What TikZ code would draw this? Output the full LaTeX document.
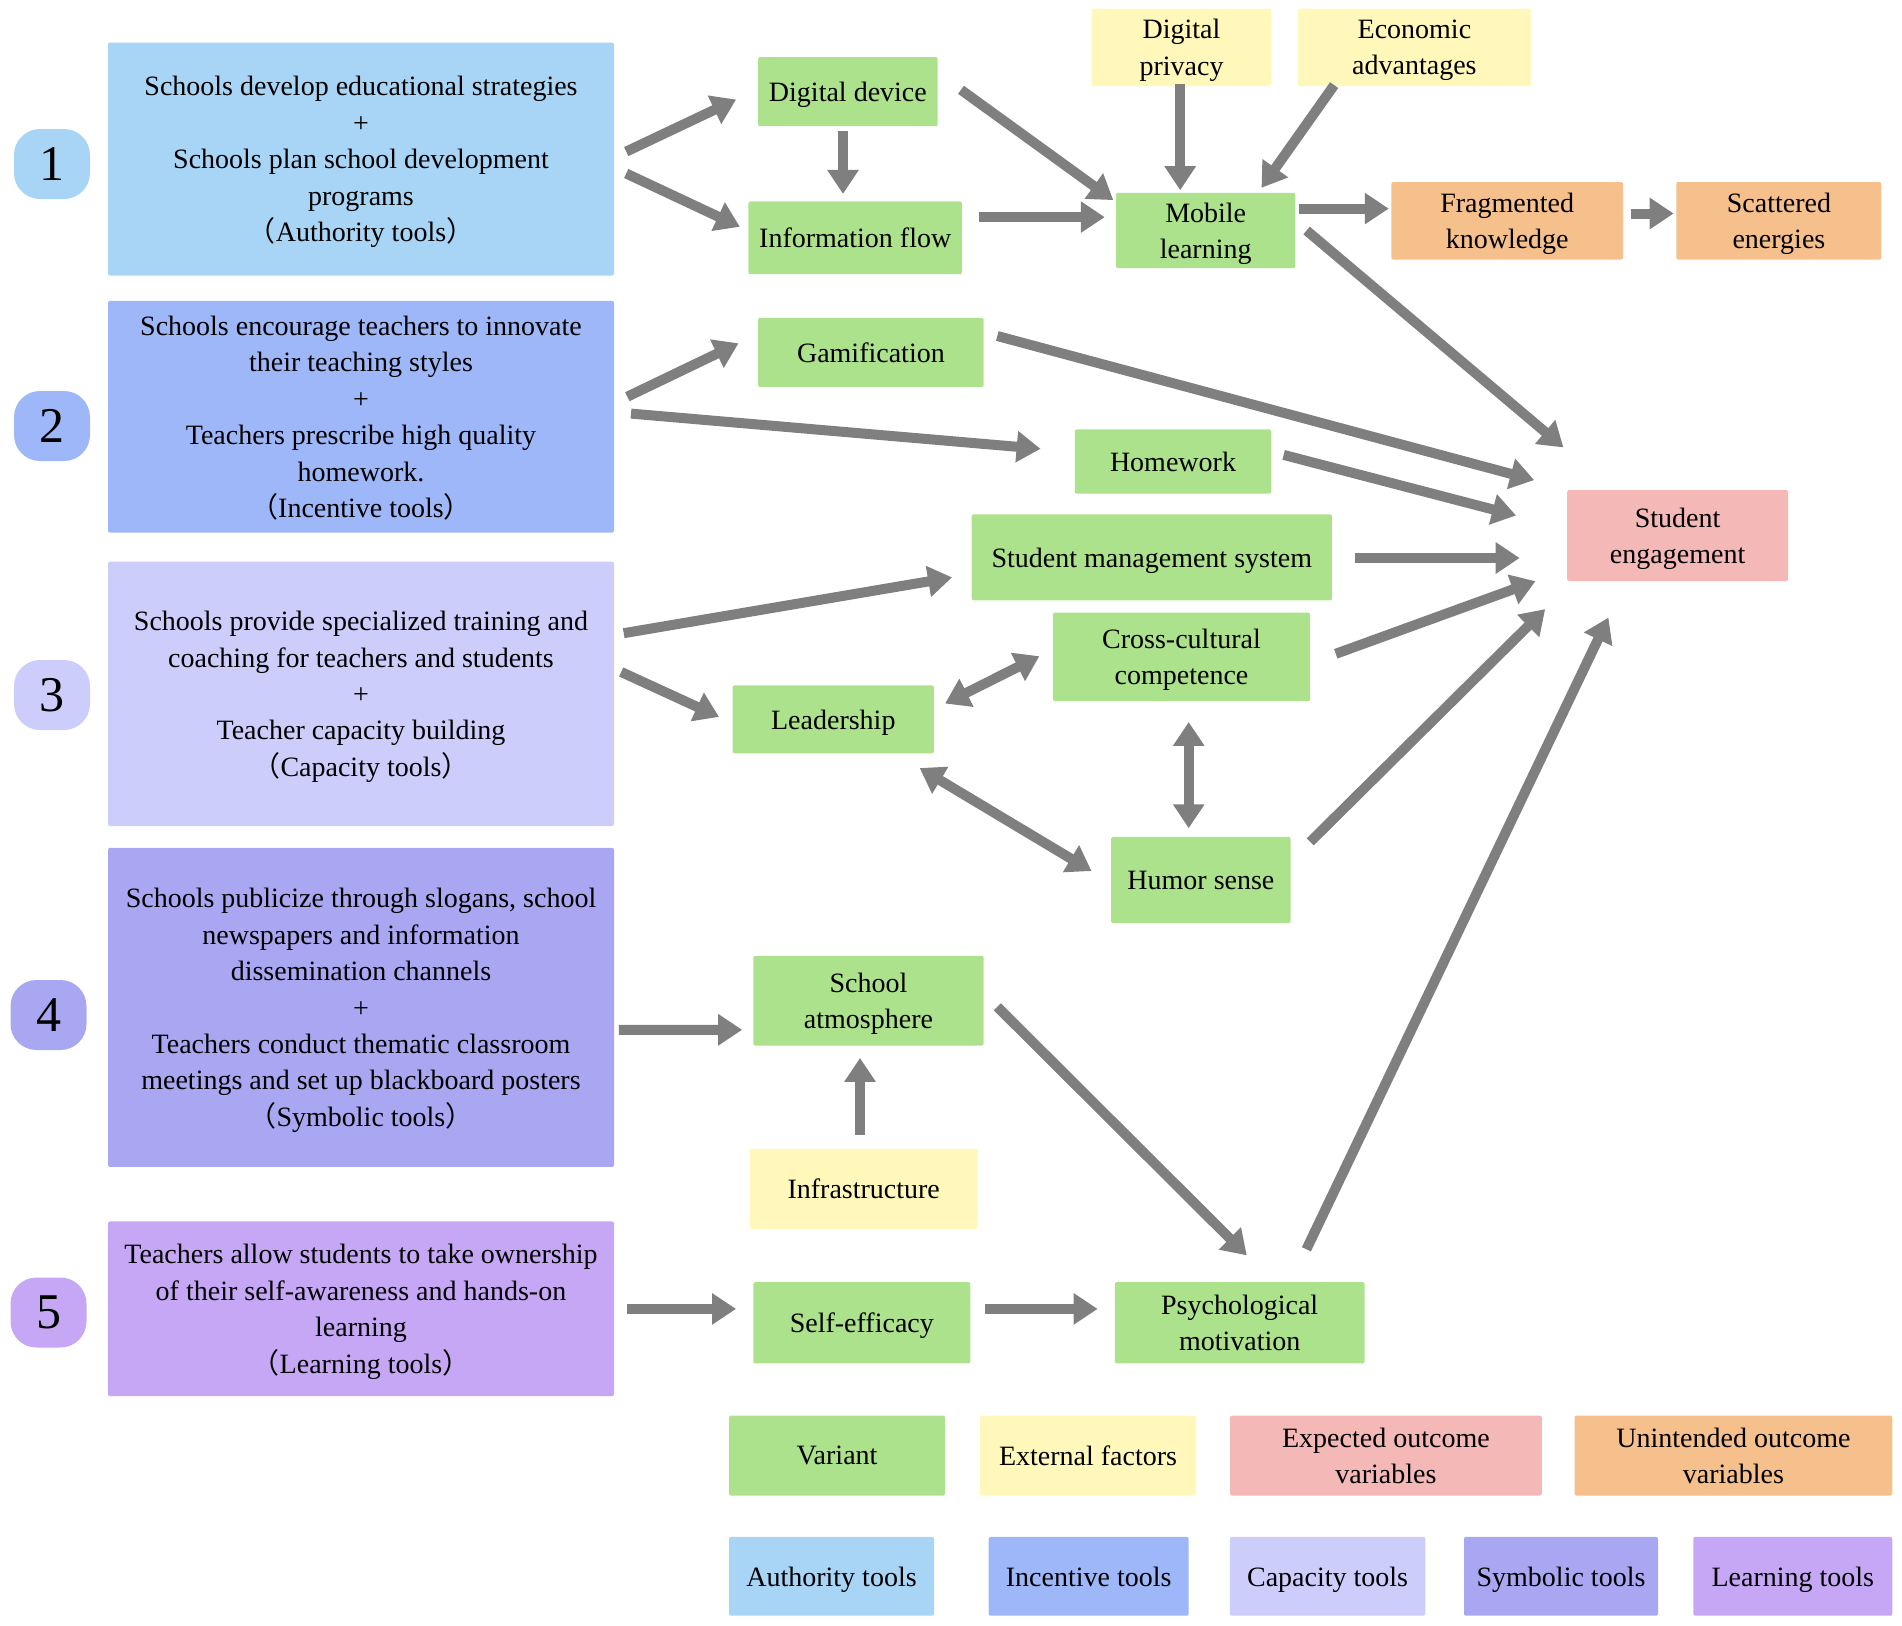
\documentclass[tikz,border=0pt]{standalone}
\usepackage{fontspec}
\setmainfont{Liberation Serif}
\newfontfamily\cjk{Noto Sans CJK SC}
\usetikzlibrary{arrows.meta,calc}
\definecolor{cvar}{HTML}{ADE28D}
\definecolor{cext}{HTML}{FFF8BA}
\definecolor{cexp}{HTML}{F4B8B7}
\definecolor{cuni}{HTML}{F5C08C}
\definecolor{cauth}{HTML}{A8D5F6}
\definecolor{cinc}{HTML}{9DB7F9}
\definecolor{ccap}{HTML}{CDCDFC}
\definecolor{csym}{HTML}{A9A7F1}
\definecolor{clearn}{HTML}{C6A7F5}
\definecolor{carrow}{HTML}{7F7F7F}
\newcommand{\lp}{{\cjk （}}
\newcommand{\rp}{{\cjk ）}}
\begin{document}
\begin{tikzpicture}[x=1pt,y=-1pt,
  tbox/.style={rounded corners=2,align=center,inner sep=3,text depth=-8pt,font=\fontsize{28}{36.4}\selectfont},
  vbox/.style={tbox,fill=cvar},
  xbox/.style={tbox,fill=cext},
  ebox/.style={tbox,fill=cexp},
  ubox/.style={tbox,fill=cuni},
  bigbox/.style={tbox,minimum width=506},
  badge/.style={rounded corners=26,minimum width=76,minimum height=70,inner sep=0,font=\fontsize{50}{50}\selectfont},
  arr/.style={draw=carrow,line width=10,-{Triangle[width=30,length=24]}},
  darr/.style={arr,{Triangle[width=30,length=24]}-{Triangle[width=30,length=24]}}]
\useasboundingbox (0,0) rectangle (1902,1625);

\node[badge,fill=cauth] (n1) at (52,164) {1};
\node[badge,fill=cinc] (n2) at (52,426) {2};
\node[badge,fill=ccap] (n3) at (52,695) {3};
\node[badge,fill=csym] (n4) at (48.5,1015) {4};
\node[badge,fill=clearn] (n5) at (48.5,1312.5) {5};

\node[bigbox,fill=cauth,minimum height=233] (b1) at (361,159)
  {Schools develop educational strategies\\+\\Schools plan school development\\programs\\\lp Authority tools\rp};
\node[bigbox,fill=cinc,minimum height=231.7] (b2) at (361,416.7)
  {Schools encourage teachers to innovate\\their teaching styles\\+\\Teachers prescribe high quality\\homework.\\\lp Incentive tools\rp};
\node[bigbox,fill=ccap,minimum height=264.4] (b3) at (361,693.8)
  {Schools provide specialized training and\\coaching for teachers and students\\+\\Teacher capacity building\\\lp Capacity tools\rp};
\node[bigbox,fill=csym,minimum height=319] (b4) at (361,1007.4)
  {Schools publicize through slogans, school\\newspapers and information\\dissemination channels\\+\\Teachers conduct thematic classroom\\meetings and set up blackboard posters\\\lp Symbolic tools\rp};
\node[bigbox,fill=clearn,minimum height=174.7] (b5) at (361,1308.8)
  {Teachers allow students to take ownership\\of their self-awareness and hands-on\\learning\\\lp Learning tools\rp};

\node[vbox,minimum width=179.5,minimum height=69.2] (dev) at (847.9,91.6) {Digital device};
\node[vbox,minimum width=213.5,minimum height=72.8] (info) at (855.2,237.8) {Information flow};
\node[vbox,minimum width=179.5,minimum height=75.2] (mob) at (1205.7,230.5) {Mobile\\learning};
\node[xbox,minimum width=179.5,minimum height=77.6] (priv) at (1181.5,47.3) {Digital\\privacy};
\node[xbox,minimum width=232.9,minimum height=77.6] (econ) at (1414.4,47.3) {Economic\\advantages};
\node[ubox,minimum width=231.7,minimum height=77.6] (frag) at (1507.2,220.8) {Fragmented\\knowledge};
\node[ubox,minimum width=205,minimum height=77.6] (scat) at (1778.9,220.8) {Scattered\\energies};
\node[vbox,minimum width=225.6,minimum height=69.1] (gam) at (870.9,352.4) {Gamification};
\node[vbox,minimum width=196.5,minimum height=64.3] (hw) at (1173,461.5) {Homework};
\node[ebox,minimum width=220.8,minimum height=91] (se) at (1677.6,535.5) {Student\\engagement};
\node[vbox,minimum width=360.3,minimum height=86.1] (sms) at (1151.8,557.4) {Student management system};
\node[vbox,minimum width=257.1,minimum height=88.5] (ccc) at (1181.5,656.9) {Cross-cultural\\competence};
\node[vbox,minimum width=201.3,minimum height=68] (lead) at (833.3,719.3) {Leadership};
\node[vbox,minimum width=179.5,minimum height=86.1] (hum) at (1200.9,880) {Humor sense};
\node[vbox,minimum width=230.4,minimum height=89.8] (atm) at (868.5,1000.7) {School\\atmosphere};
\node[xbox,minimum width=228,minimum height=80] (infra) at (863.7,1188.8) {Infrastructure};
\node[vbox,minimum width=217.1,minimum height=81.3] (selfe) at (861.8,1322.8) {Self-efficacy};
\node[vbox,minimum width=249.9,minimum height=81.3] (psy) at (1239.7,1322.8) {Psychological\\motivation};

\node[vbox,minimum width=216,minimum height=80] (lvar) at (837,1455.6) {Variant};
\node[xbox,minimum width=216,minimum height=80] (lext) at (1088,1455.6) {External factors};
\node[ebox,minimum width=311.7,minimum height=80] (lexp) at (1385.9,1455.6) {Expected outcome\\variables};
\node[ubox,minimum width=317.8,minimum height=80] (luni) at (1733.4,1455.6) {Unintended outcome\\variables};
\node[tbox,fill=cauth,minimum width=205,minimum height=78.8] (lauth) at (831.5,1576.3) {Authority tools};
\node[tbox,fill=cinc,minimum width=200,minimum height=78.8] (linc) at (1088.7,1576.3) {Incentive tools};
\node[tbox,fill=ccap,minimum width=195.3,minimum height=78.8] (lcap) at (1327.6,1576.3) {Capacity tools};
\node[tbox,fill=csym,minimum width=194,minimum height=78.8] (lsym) at (1561,1576.3) {Symbolic tools};
\node[tbox,fill=clearn,minimum width=199,minimum height=78.8] (llearn) at (1792.8,1576.3) {Learning tools};

\draw[arr] ($(b1.east)+(12,-7.4)$) -- ($(dev.west)+(-21.8,7.9)$);
\draw[arr] ($(b1.east)+(12,14.5)$) -- ($(info.west)+(-8.4,-11)$);
\draw[arr] ($(dev.south)+(-4.9,4.8)$) -- ($(info.north)+(-12.2,-7.3)$);
\draw[arr] ($(dev.east)+(23.1,-1.8)$) -- ($(mob.west)+(-2.5,-30.4)$);
\draw[arr] ($(info.east)+(17,-20.7)$) -- ($(mob.west)+(-11,-13.4)$);
\draw[arr] ($(priv.south)+(-1.3,-2.4)$) -- ($(mob.north)+(-25.5,-2.5)$);
\draw[arr] ($(econ.south west)+(36.4,-1.2)$) -- ($(mob.north)+(55.8,-4.9)$);
\draw[arr] ($(mob.east)+(3.5,-21.9)$) -- ($(frag.west)+(-2.4,-12.2)$);
\draw[arr] ($(frag.east)+(7.3,-7.3)$) -- ($(scat.west)+(-2.5,-7.3)$);
\draw[arr] ($(mob.east)+(10.9,0)$) -- ($(se.north west)+(-3.6,-42.4)$);
\draw[arr] ($(b2.east)+(13.1,-20)$) -- ($(gam.west)+(-19.4,-9.1)$);
\draw[arr] ($(b2.east)+(16.8,-3.1)$) -- ($(hw.west)+(-33.9,-12.7)$);
\draw[arr] ($(gam.east)+(13.4,-16.4)$) -- ($(se.north west)+(-32.8,-9.7)$);
\draw[arr] ($(hw.east)+(12.2,-6.6)$) -- ($(se.west)+(-50.9,-20)$);
\draw[arr] ($(sms.east)+(23,0.6)$) -- ($(se.west)+(-47.3,22.5)$);
\draw[arr] ($(b3.east)+(9.5,-60.6)$) -- ($(sms.west)+(-19.4,20)$);
\draw[arr] ($(b3.east)+(7,-21.8)$) -- ($(lead.west)+(-13.4,-2.4)$);
\draw[darr] ($(lead.east)+(10.9,-15.8)$) -- ($(ccc.west)+(-13.4,-0.7)$);
\draw[darr] ($(ccc.south)+(7.2,20.6)$) -- ($(hum.north)+(-12.2,-8.5)$);
\draw[darr] ($(lead.south east)+(-14.5,14.5)$) -- ($(hum.west)+(-19.4,-9)$);
\draw[arr] ($(ccc.east)+(25.5,-3.1)$) -- ($(se.south west)+(-31.5,0)$);
\draw[arr] ($(hum.east)+(19.4,-38.2)$) -- ($(se.south west)+(-21.8,27.9)$);
\draw[arr] ($(b4.east)+(4.6,22.4)$) -- ($(atm.west)+(-10.9,29.1)$);
\draw[arr] ($(infra.north)+(-3.7,-13.3)$) -- ($(atm.south)+(-8.5,12.1)$);
\draw[arr] ($(atm.east)+(13.4,6.1)$) -- ($(psy.north)+(7.1,-26.6)$);
\draw[arr] ($(b5.east)+(13.1,0.1)$) -- ($(selfe.west)+(-17,-13.9)$);
\draw[arr] ($(selfe.east)+(14.6,-13.9)$) -- ($(psy.west)+(-16.9,-13.9)$);
\draw[arr] ($(psy.north)+(66.7,-32.7)$) -- ($(se.south)+(-69.2,36.4)$);
\end{tikzpicture}
\end{document}
